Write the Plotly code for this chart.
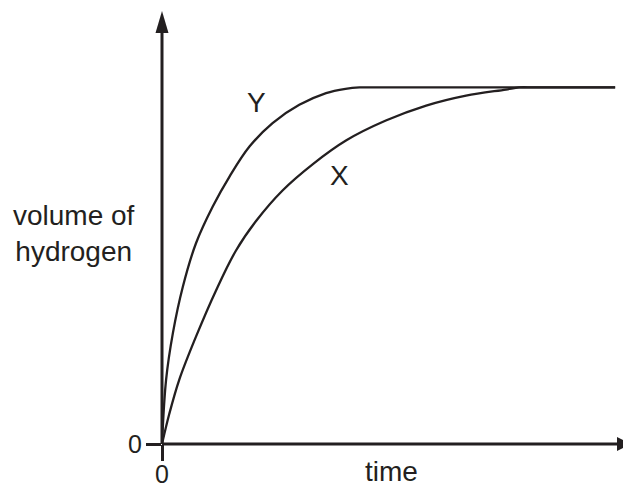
import plotly.graph_objects as go

# Data (time in arbitrary units, volume with plateau = 100)
y_time = [0, 0.9, 2.4, 4.6, 7.5, 11.2, 14.9, 19.3, 24.4, 30.3, 36.2, 40.5, 43.6, 47, 60, 80, 100]
y_volume = [0, 18.0, 31.1, 44.1, 56.3, 66.6, 75.0, 83.4, 90.0, 95.1, 98.4, 99.6, 100, 100, 100, 100, 100]

x_time = [0, 1.6, 3.8, 7.5, 11.9, 16.3, 20.8, 26.6, 33.3, 40.6, 49.4, 58.3, 67.1, 75.9, 78.8, 82, 90, 100]
x_volume = [0, 8.4, 18.0, 30.1, 43.0, 54.2, 62.6, 71.1, 78.5, 85.1, 90.7, 94.9, 97.7, 99.4, 100, 100, 100, 100]

tick_vals = [0]
tick_text = ["0"]

x_max = 103.5
y_max = 121.7

ink = "#231f20"
font_family = "Liberation Sans, Arial, Helvetica, sans-serif"

fig = go.Figure()
for name, t, v in (("Y", y_time, y_volume), ("X", x_time, x_volume)):
    fig.add_trace(go.Scatter(x=t, y=v, mode="lines", name=name,
                             line=dict(color=ink, width=2.3, shape="spline", smoothing=1),
                             showlegend=False, hoverinfo="skip"))

# Axis lines (paper coordinates so they are not clipped)
fig.add_shape(type="line", xref="paper", yref="paper", x0=0, y0=0, x1=0, y1=1 - 20 / 434,
              line=dict(color=ink, width=3))
fig.add_shape(type="line", xref="paper", yref="paper", x0=0, y0=0, x1=1 - 10 / 469, y1=0,
              line=dict(color=ink, width=3))
# Arrowheads
fig.add_shape(type="path", xref="paper", yref="paper", xsizemode="pixel", ysizemode="pixel",
              xanchor=0, yanchor=1, path="M 0 -1 L -6.5 -23 L 6.5 -23 Z",
              fillcolor=ink, line=dict(color=ink, width=0))
fig.add_shape(type="path", xref="paper", yref="paper", xsizemode="pixel", ysizemode="pixel",
              xanchor=1, yanchor=0, path="M 0 0 L -14 7 L -14 -7 Z",
              fillcolor=ink, line=dict(color=ink, width=0))

fig.update_xaxes(range=[0, x_max], showgrid=False, zeroline=False, showline=False,
                 automargin=False, tickvals=tick_vals, ticktext=tick_text,
                 ticks="outside", ticklen=16, tickwidth=3, tickcolor=ink,
                 ticklabelstandoff=-8,
                 tickfont=dict(size=25, color=ink, family=font_family), fixedrange=True)
fig.update_yaxes(range=[0, y_max], showgrid=False, zeroline=False, showline=False,
                 automargin=False, tickvals=tick_vals, ticktext=tick_text,
                 ticks="outside", ticklen=15, tickwidth=3, tickcolor=ink,
                 ticklabelstandoff=-1,
                 tickfont=dict(size=25, color=ink, family=font_family), fixedrange=True)

annots = [
    dict(text="volume of<br>hydrogen", x=-0.188, y=0.485, xref="paper", yref="paper",
         xanchor="center", yanchor="middle", align="center"),
    dict(text="time", x=(392 - 162.5) / 469, y=-0.0645, xref="paper", yref="paper",
         xanchor="center", yanchor="middle"),
    dict(text="Y", x=20.9, y=95.7, xref="x", yref="y", xanchor="center", yanchor="middle"),
    dict(text="X", x=39.2, y=75.2, xref="x", yref="y", xanchor="center", yanchor="middle"),
]
for a in annots:
    a["font"] = dict(size=28, color=ink, family=font_family)
    a["showarrow"] = False
    fig.add_annotation(**a)

# The page body adds an 8px margin, so the figure is 8px smaller to fit the 631x485 window
fig.update_layout(width=623, height=477, margin=dict(l=154, r=0, t=2, b=41, autoexpand=False),
                  paper_bgcolor="white", plot_bgcolor="white")

fig.write_html("out.html", config={"displayModeBar": False})
